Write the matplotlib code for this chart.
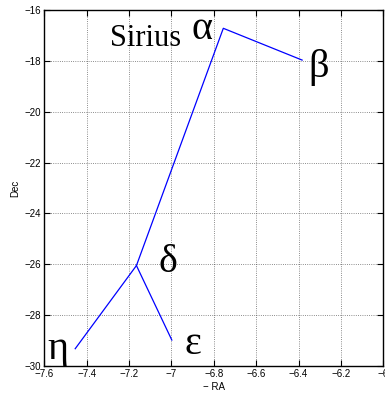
import numpy as np
import matplotlib
matplotlib.use('Agg')
import matplotlib.pyplot as plt

# star positions (-RA in hours, Dec in degrees)
names = ['eta', 'delta', 'alpha', 'beta', 'epsilon']
ra = [-7.454, -7.165, -6.755, -6.383, -6.998]
dec = [-29.32, -26.05, -16.72, -17.97, -28.98]

# star labels
labels = ['η', 'δ', 'α', 'β', 'ε']
lab_x = [-7.585, -7.06, -6.905, -6.355, -6.94]
lab_y = [-29.72, -26.29, -17.14, -18.62, -29.53]
sirius_x, sirius_y = -7.29, -17.40

xticks = [-7.6, -7.4, -7.2, -7.0, -6.8, -6.6, -6.4, -6.2, -6.0]
yticks = [-30, -28, -26, -24, -22, -20, -18, -16]

fig = plt.figure(figsize=(3.85, 3.98), dpi=100)
ax = fig.add_axes([0.115, 0.0804, 0.8805, 0.8945])

# eta - delta - alpha - beta, then delta - epsilon
ax.plot(ra[0:4], dec[0:4], color='blue', lw=0.9)
ax.plot([ra[1], ra[4]], [dec[1], dec[4]], color='blue', lw=0.9)

for t, x, y in zip(labels, lab_x, lab_y):
    ax.text(x, y, t, fontsize=29, family='Liberation Serif', va='baseline', ha='left', clip_on=True)
ax.text(sirius_x, sirius_y, 'Sirius', fontsize=22, family='Liberation Serif', va='baseline', ha='left')

ax.set_xlim(-7.6, -6.0)
ax.set_ylim(-30, -16)
ax.set_xticks(xticks)
ax.set_yticks(yticks)
ax.set_xticklabels(['\u2212' + ('%g' % abs(v)) for v in xticks], family='Liberation Sans', fontsize=7)
ax.set_yticklabels(['\u2212' + ('%g' % abs(v)) for v in yticks], family='Liberation Sans', fontsize=7)
ax.tick_params(direction='in', top=True, right=True, length=4, width=0.8, pad=2)
ax.grid(True, linestyle=':', color='black', lw=0.6, alpha=0.6)
for s in ax.spines.values():
    s.set_linewidth(1.0)

ax.set_xlabel('\u2212 RA', family='Liberation Sans', fontsize=7, labelpad=2)
ax.set_ylabel('Dec', family='Liberation Sans', fontsize=7, labelpad=3)

plt.savefig('out.png', dpi=100)
